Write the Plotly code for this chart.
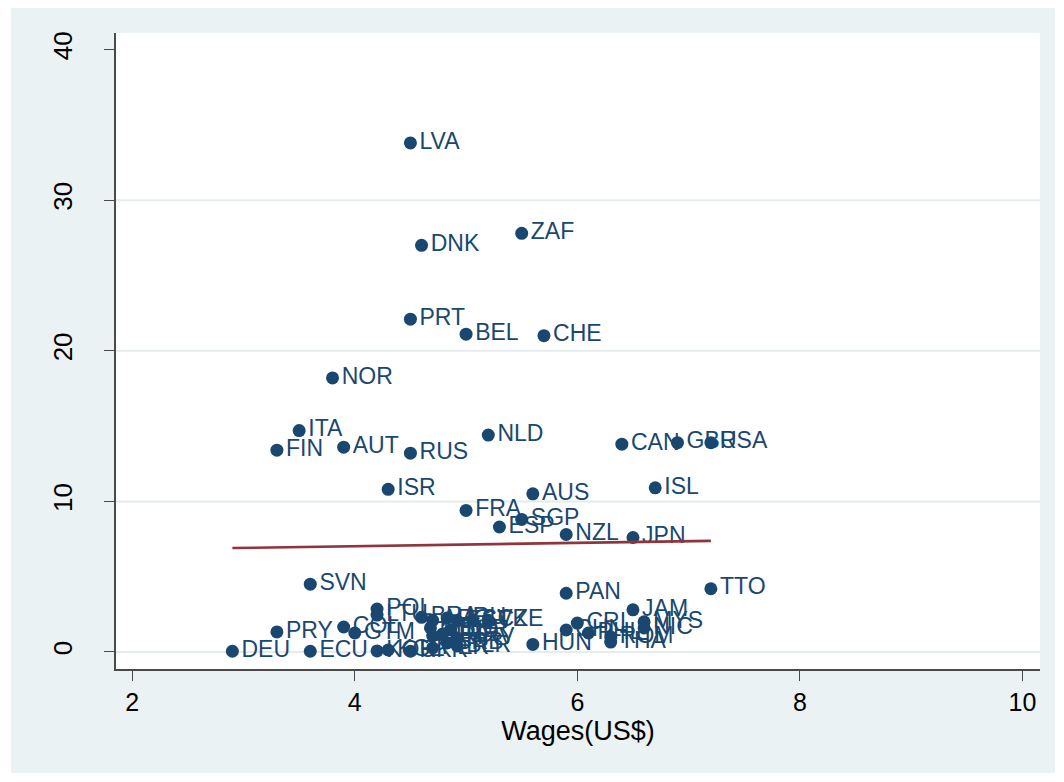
import plotly.graph_objects as go

# ---- data ----
countries = ["LVA", "DNK", "ZAF", "PRT", "BEL", "CHE", "NOR", "ITA", "FIN", "AUT",
             "RUS", "NLD", "CAN", "GBR", "USA", "ISR", "FRA", "AUS", "ISL", "SGP",
             "ESP", "NZL", "JPN", "SVN", "PAN", "TTO", "JAM", "POL", "LTU", "PRY",
             "COL", "GTM", "DEU", "ECU", "KOR", "KGZ", "UKR", "BRA", "ARG", "URU",
             "EST", "SVK", "CZE", "MEX", "GRC", "TUR", "BGR", "HRV", "SRB", "BLR",
             "PER", "HUN", "CHL", "CRI", "PHL", "ROM", "THA", "MYS", "NIC"]
wages = [4.5, 4.6, 5.5, 4.5, 5.0, 5.7, 3.8, 3.5, 3.3, 3.9,
         4.5, 5.2, 6.4, 6.9, 7.2, 4.3, 5.0, 5.6, 6.7, 5.5,
         5.3, 5.9, 6.5, 3.6, 5.9, 7.2, 6.5, 4.2, 4.2, 3.3,
         3.9, 4.0, 2.9, 3.6, 4.2, 4.3, 4.5, 4.6, 4.7, 4.83,
         4.92, 5.06, 5.2, 4.68, 4.7, 4.79, 4.86, 4.92, 4.83, 4.92,
         4.7, 5.6, 5.9, 6.0, 6.1, 6.3, 6.3, 6.6, 6.6]
values = [33.8, 27.0, 27.8, 22.1, 21.1, 21.0, 18.2, 14.7, 13.4, 13.6,
          13.2, 14.4, 13.8, 13.9, 13.9, 10.8, 9.4, 10.5, 10.9, 8.8,
          8.3, 7.8, 7.6, 4.5, 3.9, 4.2, 2.8, 2.85, 2.45, 1.33,
          1.66, 1.26, 0.05, 0.05, 0.07, 0.13, 0.05, 2.3, 2.1, 2.25,
          2.05, 2.1, 2.1, 1.6, 1.06, 1.2, 1.46, 0.93, 0.6, 0.4,
          0.27, 0.5, 1.46, 1.92, 1.26, 1.0, 0.66, 2.0, 1.6]

fit_x = [2.9, 7.2]
fit_y = [6.9, 7.38]

x_ticks = [2, 4, 6, 8, 10]
y_ticks = [0, 10, 20, 30, 40]
y_grid = [0, 10, 20, 30]
x_title = "Wages(US$)"

# ---- styling ----
NAVY = "#1a476f"
MAROON = "#90353b"
BG = "#eaf2f3"
FONT = "Liberation Sans, Arial, sans-serif"

fig = go.Figure()

fig.add_trace(go.Scatter(
    x=wages, y=values, mode="markers+text", text=countries,
    textposition="middle right",
    marker=dict(color=NAVY, size=13, line=dict(width=0)),
    textfont=dict(color=NAVY, size=23, family=FONT),
    cliponaxis=False, hoverinfo="skip",
))

fig.add_trace(go.Scatter(
    x=fit_x, y=fit_y, mode="lines",
    line=dict(color=MAROON, width=2.6), hoverinfo="skip",
))

# page body offsets the figure by 8px
OFF = 8
W, H = 1056, 774
ml, mr, mt, mb = 108, 24, 25, 113
pw, ph = W - ml - mr, H - mt - mb

def px(xp):
    return (xp - OFF - ml) / pw

def py(yp):
    return (H - mb - (yp - OFF)) / ph

shapes = [
    dict(type="rect", xref="paper", yref="paper",
         x0=px(11), x1=px(1055), y0=py(773), y1=py(5),
         fillcolor=BG, line=dict(width=0), layer="below"),
    dict(type="rect", xref="paper", yref="paper",
         x0=0, x1=1, y0=0, y1=1,
         fillcolor="white", line=dict(width=0), layer="below"),
]
for g in y_grid:
    shapes.append(dict(type="line", xref="x domain", yref="y",
                       x0=0, x1=1, y0=g, y1=g,
                       line=dict(color="#e4ecee", width=2), layer="below"))

fig.update_layout(
    width=W, height=H,
    margin=dict(l=ml, r=mr, t=mt, b=mb, pad=0),
    paper_bgcolor="white", plot_bgcolor="rgba(0,0,0,0)",
    showlegend=False,
    shapes=shapes,
    font=dict(family=FONT, color="black"),
)

fig.update_xaxes(
    range=[1.854, 10.158], tickvals=x_ticks, ticktext=[str(t) for t in x_ticks],
    showgrid=False, zeroline=False,
    showline=True, linecolor="#4a4a4a", linewidth=1.6,
    ticks="outside", ticklen=10, tickwidth=1.4, tickcolor="#4a4a4a",
    tickfont=dict(size=25, family=FONT, color="black"),
    title=dict(text=x_title, font=dict(size=27, family=FONT, color="black"), standoff=0),
)
fig.update_yaxes(
    range=[-1.13, 41.1], tickvals=y_ticks, ticktext=[str(t) for t in y_ticks],
    showgrid=False, zeroline=False,
    showline=True, linecolor="#4a4a4a", linewidth=1.6,
    ticks="outside", ticklen=10, tickwidth=1.4, tickcolor="#4a4a4a",
    tickangle=-90, ticklabelstandoff=22,
    tickfont=dict(size=26, family=FONT, color="black"),
)

fig.write_html("out.html")
